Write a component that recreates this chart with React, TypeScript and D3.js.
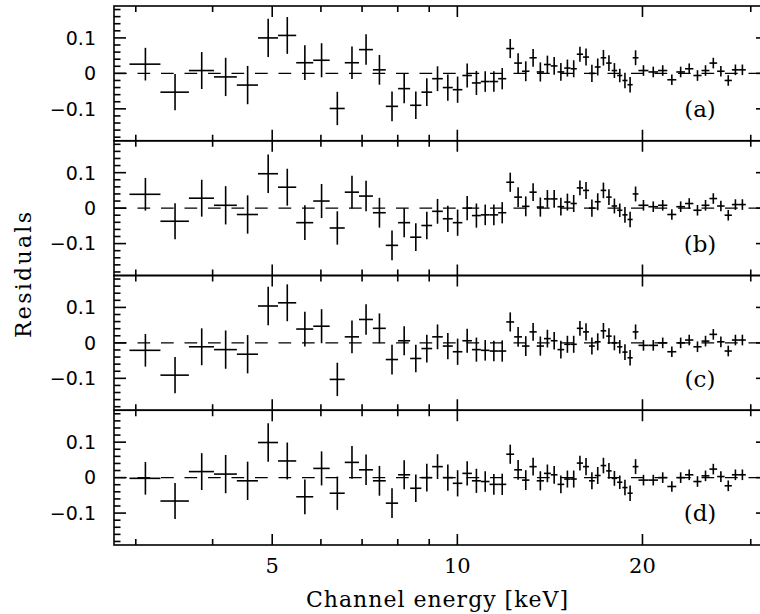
import React, { useEffect, useRef } from 'react';
import * as d3 from 'd3';

// channel bin edges in keV (46 single PCA channels, then 13 pairs)
const channelEdges = [
  2.93, 3.29, 3.66, 4.02, 4.38, 4.74, 5.11, 5.47, 5.83, 6.20,
  6.56, 6.92, 7.29, 7.65, 8.01, 8.38, 8.74, 9.10, 9.47, 9.83,
  10.19, 10.56, 10.92, 11.28, 11.65, 12.01, 12.37, 12.74, 13.10, 13.46,
  13.83, 14.19, 14.55, 14.92, 15.28, 15.64, 16.01, 16.37, 16.73, 17.10,
  17.46, 17.82, 18.19, 18.55, 18.91, 19.28, 19.70, 20.45, 21.20, 21.95,
  22.70, 23.45, 24.20, 24.95, 25.70, 26.45, 27.20, 27.95, 28.70, 29.45
];

// 1 sigma errors of the residuals, same data in every panel
const sigma = [
  0.046, 0.051, 0.052, 0.054, 0.054, 0.054, 0.052, 0.049, 0.048, 0.047,
  0.046, 0.043, 0.042, 0.042, 0.041, 0.039, 0.039, 0.035, 0.037, 0.037,
  0.034, 0.034, 0.029, 0.029, 0.030, 0.027, 0.028, 0.028, 0.025, 0.027,
  0.025, 0.025, 0.025, 0.024, 0.024, 0.021, 0.024, 0.024, 0.024, 0.022,
  0.022, 0.021, 0.019, 0.022, 0.022, 0.021, 0.015, 0.015, 0.015, 0.015,
  0.015, 0.015, 0.015, 0.015, 0.015, 0.015, 0.015, 0.015, 0.015
];

const residA = [
  0.026, -0.053, 0.008, -0.010, -0.033, 0.100, 0.107, 0.030, 0.037, -0.099,
  0.030, 0.067, 0.010, -0.093, -0.043, -0.090, -0.053, -0.015, -0.040, -0.046,
  -0.006, -0.027, -0.023, -0.023, -0.015, 0.070, 0.029, 0.006, 0.044, 0.004,
  0.025, 0.021, 0.004, 0.015, 0.013, 0.054, 0.046, 0.000, 0.018, 0.044,
  0.029, 0.008, -0.006, -0.020, -0.032, 0.044, 0.008, 0.004, 0.008, -0.018,
  0.004, 0.013, -0.006, 0.008, 0.029, 0.006, -0.020, 0.010, 0.010
];

const residB = [
  0.039, -0.037, 0.028, 0.008, -0.018, 0.097, 0.059, -0.041, 0.020, -0.056,
  0.045, 0.034, -0.013, -0.105, -0.041, -0.082, -0.049, -0.009, -0.030, -0.041,
  0.000, -0.021, -0.019, -0.019, -0.013, 0.073, 0.031, 0.005, 0.045, 0.003,
  0.026, 0.026, 0.004, 0.017, 0.013, 0.057, 0.050, 0.000, 0.018, 0.050,
  0.031, 0.006, -0.006, -0.019, -0.032, 0.040, 0.008, 0.004, 0.008, -0.018,
  0.004, 0.013, -0.006, 0.008, 0.027, 0.006, -0.020, 0.010, 0.010
];

const residC = [
  -0.021, -0.091, -0.011, -0.019, -0.032, 0.104, 0.113, 0.039, 0.047, -0.103,
  0.017, 0.066, 0.041, -0.047, 0.006, -0.044, -0.016, 0.017, -0.009, -0.025,
  0.006, -0.019, -0.021, -0.023, -0.023, 0.059, 0.017, -0.009, 0.031, -0.009,
  0.012, 0.006, -0.019, -0.004, -0.004, 0.041, 0.031, -0.009, 0.003, 0.034,
  0.019, 0.000, -0.011, -0.026, -0.042, 0.031, -0.007, -0.007, 0.000, -0.025,
  0.000, 0.008, -0.011, 0.005, 0.024, 0.003, -0.023, 0.008, 0.008
];

const residD = [
  -0.002, -0.066, 0.017, 0.010, -0.009, 0.099, 0.047, -0.054, 0.026, -0.044,
  0.043, 0.022, -0.009, -0.072, 0.008, -0.030, 0.000, 0.031, 0.000, -0.016,
  0.012, -0.009, -0.011, -0.019, -0.019, 0.066, 0.022, -0.007, 0.031, -0.009,
  0.012, 0.008, -0.019, -0.004, -0.004, 0.041, 0.031, -0.009, 0.006, 0.034,
  0.019, -0.002, -0.013, -0.028, -0.044, 0.031, -0.007, -0.007, 0.000, -0.025,
  0.000, 0.008, -0.011, 0.005, 0.024, 0.003, -0.023, 0.008, 0.008
];

const panels = [residA, residB, residC, residD];
const panelLabels = ['(a)', '(b)', '(c)', '(d)'];

const xMajorTicks = [5, 10, 20];
const xMinorTicks = [3, 4, 6, 7, 8, 9, 30];
const yMajorTicks = [-0.1, 0, 0.1];
const yMinorTicks = [
  -0.18, -0.16, -0.14, -0.12, -0.08, -0.06, -0.04, -0.02,
  0.02, 0.04, 0.06, 0.08, 0.12, 0.14, 0.16, 0.18
];

const fmtY = (v: number) => (v === 0 ? '0' : (v < 0 ? '\u2212' : '') + Math.abs(v).toFixed(1));

export default function App() {
  const rootNode = useRef<SVGSVGElement>(null);

  useEffect(() => {
    const svg = d3.select(rootNode.current);
    svg.selectAll('*').remove();

    const left = 114;
    const right = 768;
    const top = 6;
    const bottom = 545;
    const panelH = (bottom - top) / panels.length;
    const lw = 1.6;

    const x = d3.scaleLog().domain([2.765, 32]).range([left, right]);

    panels.forEach((resid, i) => {
      const y0 = top + i * panelH;
      const y = d3.scaleLinear().domain([-0.19, 0.19]).range([y0 + panelH, y0]);
      const g = svg.append('g').attr('stroke', '#000').attr('stroke-width', lw).attr('fill', 'none');

      g.append('rect')
        .attr('x', left)
        .attr('y', y0)
        .attr('width', right - left)
        .attr('height', panelH);

      // x ticks, top and bottom, pointing inwards
      const xt = xMajorTicks.map(t => ({ t, len: 11 })).concat(xMinorTicks.map(t => ({ t, len: 6 })));
      xt.forEach(d => {
        g.append('line')
          .attr('x1', x(d.t)).attr('x2', x(d.t))
          .attr('y1', y0).attr('y2', y0 + d.len);
        g.append('line')
          .attr('x1', x(d.t)).attr('x2', x(d.t))
          .attr('y1', y0 + panelH).attr('y2', y0 + panelH - d.len);
      });

      // y ticks, left and right
      const yt = yMajorTicks.map(t => ({ t, len: 12 })).concat(yMinorTicks.map(t => ({ t, len: 6.5 })));
      yt.forEach(d => {
        g.append('line')
          .attr('x1', left).attr('x2', left + d.len)
          .attr('y1', y(d.t)).attr('y2', y(d.t));
        g.append('line')
          .attr('x1', right).attr('x2', right - d.len)
          .attr('y1', y(d.t)).attr('y2', y(d.t));
      });

      // dashed zero level
      g.append('line')
        .attr('x1', left).attr('x2', right)
        .attr('y1', y(0)).attr('y2', y(0))
        .attr('stroke-width', 1.4)
        .attr('stroke-dasharray', '12.7 10.8');

      // residual crosses
      resid.forEach((v, k) => {
        const lo = channelEdges[k];
        const hi = channelEdges[k + 1];
        const mid = (lo + hi) / 2;
        g.append('line')
          .attr('x1', x(lo)).attr('x2', x(hi))
          .attr('y1', y(v)).attr('y2', y(v));
        g.append('line')
          .attr('x1', x(mid)).attr('x2', x(mid))
          .attr('y1', y(v - sigma[k])).attr('y2', y(v + sigma[k]));
      });

      // y tick labels
      svg.append('g')
        .selectAll('text')
        .data(yMajorTicks)
        .enter()
        .append('text')
        .attr('x', 96)
        .attr('y', d => y(d))
        .attr('dy', '0.36em')
        .attr('text-anchor', 'end')
        .style('font-family', '"DejaVu Sans", sans-serif')
        .style('font-size', '19px')
        .text(d => fmtY(d));

      svg.append('text')
        .attr('x', 700)
        .attr('y', y0 + 111)
        .attr('text-anchor', 'middle')
        .style('font-family', '"DejaVu Serif", serif')
        .style('font-size', '23px')
        .text(panelLabels[i]);
    });

    svg.append('g')
      .selectAll('text')
      .data(xMajorTicks)
      .enter()
      .append('text')
      .attr('x', d => x(d))
      .attr('y', 573)
      .attr('text-anchor', 'middle')
      .style('font-family', '"DejaVu Serif", serif')
      .style('font-size', '21px')
      .text(d => String(d));

    svg.append('text')
      .attr('x', 437)
      .attr('y', 607)
      .attr('text-anchor', 'middle')
      .attr('textLength', 262)
      .attr('lengthAdjust', 'spacing')
      .style('font-family', '"DejaVu Serif", serif')
      .style('font-size', '22px')
      .text('Channel energy [keV]');

    svg.append('text')
      .attr('transform', 'translate(31,275) rotate(-90)')
      .attr('text-anchor', 'middle')
      .attr('textLength', 126)
      .attr('lengthAdjust', 'spacing')
      .style('font-family', '"DejaVu Serif", serif')
      .style('font-size', '22px')
      .text('Residuals');
  }, []);

  return (
    <svg
      ref={rootNode}
      width={760}
      height={614}
      style={{ position: 'absolute', left: 0, top: 0, background: '#fff' }}
    />
  );
}
